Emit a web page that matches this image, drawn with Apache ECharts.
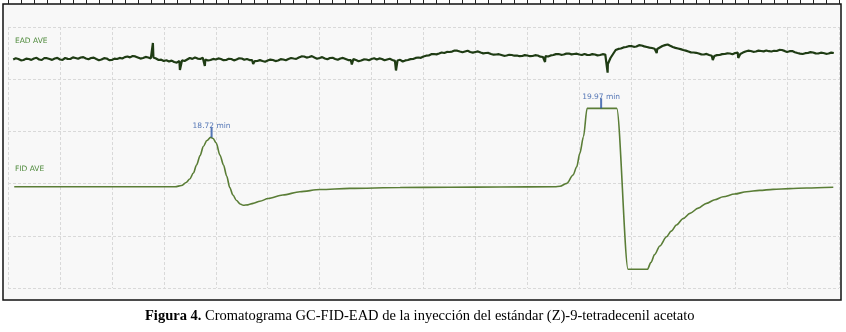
<!DOCTYPE html>
<html>
<head>
<meta charset="utf-8">
<script src="https://cdn.jsdelivr.net/npm/echarts@6/dist/echarts.min.js"></script>
<style>
html,body{margin:0;padding:0;background:#fff;}
#c{width:846px;height:332px;}
</style>
</head>
<body>
<div id="c"></div>
<script>
// ---- DATA ----
// Retention time axis, seconds
const timeRange = [1084, 1244];
// EAD trace: one reading every half second starting at t = 1085 s (arbitrary units, 0 = baseline)
const eadStart = 1085;
const eadStep = 0.5;
const eadValues = [
  -1.5,-0.3,-1,-2.3,-2,-0.6,-1,-1.9,-0.5,0.2,-1.5,-2,0,-0.2,-1,-1.9,-0.5,0.1,-1.5,-1.8,
  0,-0.9,-1,0.6,0,-0.8,0.5,0.9,-0.5,-1.2,0,0.4,-1,-2.2,-1.5,-0.2,-0.5,-2.1,-2,-0.6,
  -1,0.1,-0.5,0.9,1.5,0.6,2,1.6,0.5,-0.6,0,1.1,0.5,-0.4,0.5,-0.5,-2,-1.7,-3,-2.3,
  -3.5,-2.6,-4,-4.6,-3,-2.4,-3,-1.5,0,-0.9,0.5,-0.6,-1,0.2,-1.5,-2.5,-2,-0.9,-1.5,-0.4,
  -1,-2.2,-2,-0.8,-1,-2.4,-1.5,-0.3,-0.5,-1.8,-1,-2.1,-2,-3.2,-3,-2.1,-3,-3.8,-2.5,-1.6,
  -2,-3.1,-2.5,-1.2,-1.5,-2.3,-1,0,-0.5,-0.9,0.5,1.6,1.5,0.4,1,1.9,0.5,-0.7,0,0.9,
  -0.5,-1.3,0,0.2,-1,-1.8,-0.5,0.1,-1,-2.1,-2,-1.1,-2,-3.2,-2.5,-1.4,-1.5,-2.3,-1,-0.3,
  -1.5,-0.4,-1,-2.3,-1.5,-0.8,-2,-2.9,-2.5,-1.8,-3.5,-2.4,-2,-1.1,-1,0.1,0.5,0.2,1.5,2.3,
  2.5,3.8,4,3.6,4.5,5.5,5,6.1,6,6.4,7.5,7.3,6.5,5.8,6.5,7.2,6,5.4,6,6.6,
  5.5,4.6,5,5.1,4,3.3,3.5,3.8,3,2.2,2.5,3.2,3,2.3,2.5,1.8,2,2.9,2.5,1.8,
  2,2.8,2.5,1.3,1,1.8,1.5,2.6,3,3.9,4,3.2,3.5,4.4,4.5,3.6,4,4.3,3.5,3,
  4,3.1,3,3.9,3.5,2.6,3,3.8,3.5,-6,0,4,8,9.1,9.5,10.6,11,11.8,12,11.2,
  11.5,12.8,12.5,11.6,11,10.4,10,9.3,9,10.5,12,12.9,13.5,12.2,11,10.1,9.5,8.9,8,7.4,
  6.5,5.6,5.5,5.2,4.5,3.6,3.5,4.1,3,2.2,2,2.9,3,3.9,4,4.6,4.5,3.8,5,5.3,
  4,5.4,6.5,7.3,7,6.2,6.5,7.4,7,6.6,7.5,6.8,6.5,7.2,7,8.1,8,7.1,6,6.8,
  7,5.8,5,4.4,4,4.8,5,5.9,5.5,4.6,4.5,5.3,5,4.2,4.5,5.4,5
];
// short EAD transients [t (s), value]
const eadSpikes = [
  [1111.9, 15], [1117.1, -12], [1121.9, -8], [1131.2, -6],
  [1150.2, -6.5], [1158.7, -12.5], [1187.4, -4], [1199.45, -14.7],
  [1208.9, 5], [1219.7, -2], [1224.6, 0]
];
// FID trace [t (s), signal]
const fid = [
  [1085.2,0],[1110,0],[1116.2,0],[1117.4,0.23],[1118.3,0.8],[1119.0,1.48],[1119.7,2.62],
  [1120.3,4.16],[1121.0,5.98],[1121.6,7.7],[1122.3,8.85],[1123.0,9.46],[1123.5,9.23],
  [1124.1,8.37],[1124.8,6.07],[1125.5,4.16],[1126.1,2.05],[1126.7,-0.15],[1127.3,-1.59],
  [1128.0,-2.64],[1128.7,-3.31],[1129.3,-3.56],[1130.2,-3.47],[1131.2,-3.18],[1132.5,-2.78],
  [1134.1,-2.26],[1136.9,-1.59],[1140.2,-0.96],[1144.1,-0.54],[1149.8,-0.31],[1159.5,-0.15],
  [1169.1,-0.1],[1178.7,-0.06],[1189.3,0],[1190.3,0.1],[1191.6,0.65],[1192.8,2.24],
  [1193.5,3.83],[1194.1,6.4],[1194.8,9.58],[1195.5,15.02],[1201.2,15.02],[1203.4,-15.82],
  [1207.1,-15.82],[1207.8,-14.5],[1208.5,-13.0],[1209.5,-11.36],[1210.8,-9.58],[1211.7,-8.5],
  [1212.7,-7.34],[1214.0,-6.1],[1215.3,-5.1],[1216.9,-4.1],[1218.5,-3.18],[1220.1,-2.5],
  [1221.7,-1.92],[1223.9,-1.4],[1226.2,-0.96],[1228.7,-0.7],[1231.3,-0.5],[1234.5,-0.36],
  [1237.8,-0.25],[1242.9,-0.11]
];
// labelled peaks
const peakTimesMin = [18.72, 19.97];
const peakHeights = [9.46, 15.02];
const channelNames = ['EAD AVE', 'FID AVE'];
const caption = ['Figura 4.', ' Cromatograma GC-FID-EAD de la inyección del estándar (Z)-9-tetradecenil acetato'];

// ---- BUILD ----
const eadData = eadValues.map((v, i) => [eadStart + i * eadStep, v]).concat(eadSpikes).sort((a, b) => a[0] - b[0]);
const peakData = peakTimesMin.map((m, i) => ({ value: [m * 60, peakHeights[i]], name: m.toFixed(2) + ' min' }));

const chart = echarts.init(document.getElementById('c'), null, { renderer: 'canvas' });
const gridStyle = { show: true, lineStyle: { color: '#d9d9d9', width: 1, type: [3, 2] } };
chart.setOption({
  animation: false,
  backgroundColor: '#ffffff',
  title: {
    left: 145, top: 309, padding: 0,
    text: '{b|' + caption[0] + '}{n|' + caption[1] + '}',
    textStyle: {
      rich: {
        b: { fontFamily: 'Liberation Serif', fontWeight: 'bold', fontSize: 14.5, color: '#000' },
        n: { fontFamily: 'Liberation Serif', fontWeight: 'normal', fontSize: 14.5, color: '#000' }
      }
    }
  },
  graphic: [
    { type: 'rect', z: -100, shape: { x: 3, y: 4, width: 838, height: 296 },
      style: { fill: '#f8f8f8', stroke: '#111', lineWidth: 1.5 } },
    { type: 'text', z: 100, left: 15, top: 37,
      style: { text: channelNames[0], fill: '#4f8a3c', font: '7.5px "DejaVu Sans"' } },
    { type: 'text', z: 100, left: 15, top: 165,
      style: { text: channelNames[1], fill: '#4f8a3c', font: '7.5px "DejaVu Sans"' } }
  ],
  grid: { left: 8, right: 7, top: 27, bottom: 44, show: false },
  xAxis: [
    { type: 'value', min: timeRange[0], max: timeRange[1], show: false },
    { type: 'value', min: 0, max: 16, interval: 1, position: 'top', offset: 23,
      axisLine: { show: false, onZero: false },
      axisTick: { show: true, inside: false, length: 4, lineStyle: { color: '#222' } },
      minorTick: { show: true, splitNumber: 4, length: 4, lineStyle: { color: '#222' } },
      axisLabel: { show: false },
      splitLine: gridStyle }
  ],
  yAxis: [
    { type: 'value', min: 0, max: 5, interval: 1,
      axisLine: { show: false, onZero: false }, axisTick: { show: false }, axisLabel: { show: false },
      splitLine: gridStyle },
    { type: 'value', min: -19.4, max: 30.6, show: false },
    { type: 'value', min: -230, max: 31, show: false }
  ],
  series: [
    { type: 'line', name: 'EAD', xAxisIndex: 0, yAxisIndex: 2, data: eadData,
      showSymbol: false, z: 3, lineStyle: { color: '#1f3c14', width: 2.2 } },
    { type: 'line', name: 'FID', xAxisIndex: 0, yAxisIndex: 1, data: fid,
      showSymbol: false, smooth: 0.3, smoothMonotone: 'x', z: 3,
      lineStyle: { color: '#5a7d36', width: 1.6 } },
    { type: 'scatter', name: 'peaks', xAxisIndex: 0, yAxisIndex: 1, data: peakData,
      symbol: 'rect', symbolSize: [2, 10], symbolOffset: [0, -5], z: 4,
      itemStyle: { color: '#2a55a5' },
      label: { show: true, position: 'top', distance: -3, formatter: p => p.name,
        color: '#2a55a5', fontSize: 7.5, fontFamily: 'DejaVu Sans' } }
  ]
});
</script>
</body>
</html>
